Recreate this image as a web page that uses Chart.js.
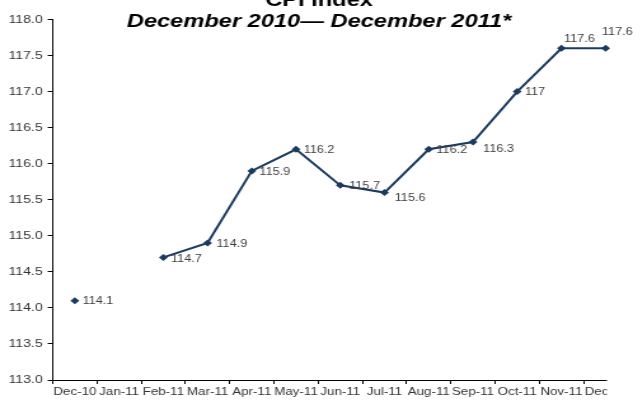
<!DOCTYPE html>
<html>
<head>
<meta charset="utf-8">
<title>CPI Index</title>
<script src="https://cdn.jsdelivr.net/npm/chart.js@4.4.0/dist/chart.umd.min.js"></script>
<style>
  html, body { margin: 0; padding: 0; background: #fff; overflow: hidden; }
  #cpiChart { display: block; }
</style>
</head>
<body>
<!-- canvas is drawn narrow and stretched out to the page width -->
<canvas id="cpiChart" width="498" height="400" style="width:633px;height:400px"></canvas>
<script>
// months along the bottom
const months = ["Dec-10", "Jan-11", "Feb-11", "Mar-11", "Apr-11", "May-11", "Jun-11",
  "Jul-11", "Aug-11", "Sep-11", "Oct-11", "Nov-11", "Dec-11"];

// cpi readings, no number for jan-11
const cpiValues = [114.1, null, 114.7, 114.9, 115.9, 116.2, 115.7, 115.6, 116.2, 116.3, 117, 117.6, 117.6];

// y axis range
const yMin = 113;
const yMax = 118;
const yStep = 0.5;

// title text
const titleLines = ["CPI Index", "December 2010\u2014 December 2011*"];

// where each value label sits next to its point [dx, dy]
const labelNudge = [[6, 1], [0, 0], [6, 2], [7, 1], [6, 1], [6, 1], [7, 1],
  [8, 6], [6, 1], [8, 7], [6, 1], [2, -9], [-3, -16]];

const navy = "#1B3A5E";
const fontFamily = "'Liberation Sans', Arial, Helvetica, sans-serif";

// draws the numbers beside the points
const pointLabels = {
  id: "pointLabels",
  afterDatasetsDraw(chart) {
    const ctx = chart.ctx;
    const meta = chart.getDatasetMeta(0);
    ctx.save();
    ctx.font = "10px " + fontFamily;
    ctx.fillStyle = "#404040";
    ctx.textAlign = "left";
    ctx.textBaseline = "middle";
    meta.data.forEach((pt, i) => {
      const v = cpiValues[i];
      if (v === null) return;
      ctx.fillText(String(v), pt.x + labelNudge[i][0], pt.y + labelNudge[i][1]);
    });
    ctx.restore();
  },
};

// title sits over the top of the plot, first line runs off the top
const overlayTitle = {
  id: "overlayTitle",
  afterDraw(chart) {
    const ctx = chart.ctx;
    const xScale = chart.scales.x;
    ctx.save();

    // the axis and last month label stop at the last point
    const cut = xScale.getPixelForValue(months.length - 1) + 1;
    ctx.fillStyle = "#fff";
    ctx.fillRect(cut, chart.chartArea.bottom - 1, chart.width - cut, chart.height);

    ctx.fillStyle = "#000";
    ctx.textAlign = "center";
    ctx.textBaseline = "alphabetic";
    const cx = chart.width / 2 + 2;
    ctx.font = "bold 18.6px " + fontFamily;
    ctx.fillText(titleLines[0], cx, 6);
    ctx.font = "italic bold 18.6px " + fontFamily;
    ctx.fillText(titleLines[1], cx, 27);
    ctx.restore();
  },
};

const ctx = document.getElementById("cpiChart").getContext("2d");

const cpiChart = new Chart(ctx, {
  type: "line",
  data: {
    labels: months,
    datasets: [
      {
        label: "CPI",
        data: cpiValues,
        borderColor: navy,
        borderWidth: 2,
        backgroundColor: navy,
        pointStyle: "rectRot",
        pointRadius: 3.5,
        pointBackgroundColor: navy,
        pointBorderColor: navy,
        pointBorderWidth: 0,
        tension: 0,
        spanGaps: false,
        clip: false,
      },
    ],
  },
  options: {
    responsive: false,
    animation: false,
    layout: {
      padding: { top: 19.5, right: 4.1, bottom: 0, left: 0 },
    },
    plugins: {
      legend: { display: false },
      tooltip: { enabled: false },
      title: { display: false },
    },
    scales: {
      x: {
        type: "category",
        offset: true,
        grid: {
          display: true,
          offset: true,
          drawOnChartArea: false,
          drawTicks: true,
          tickLength: 4,
          color: "#000",
          lineWidth: 1,
        },
        border: { display: true, color: "#000", width: 1 },
        ticks: {
          autoSkip: false,
          maxRotation: 0,
          minRotation: 0,
          padding: 2,
          color: "#333",
          font: { family: fontFamily, size: 10.5 },
        },
        afterFit(scale) {
          scale.height = 20;
        },
      },
      y: {
        min: yMin,
        max: yMax,
        grid: {
          display: true,
          drawOnChartArea: false,
          drawTicks: true,
          tickLength: 4,
          color: "#000",
          lineWidth: 1,
        },
        border: { display: true, color: "#000", width: 1 },
        ticks: {
          stepSize: yStep,
          padding: 4,
          color: "#333",
          font: { family: fontFamily, size: 11 },
          callback: (v) => Number(v).toFixed(1),
        },
        afterFit(scale) {
          scale.width = 41.5;
        },
      },
    },
  },
  plugins: [pointLabels, overlayTitle],
});
</script>
</body>
</html>
